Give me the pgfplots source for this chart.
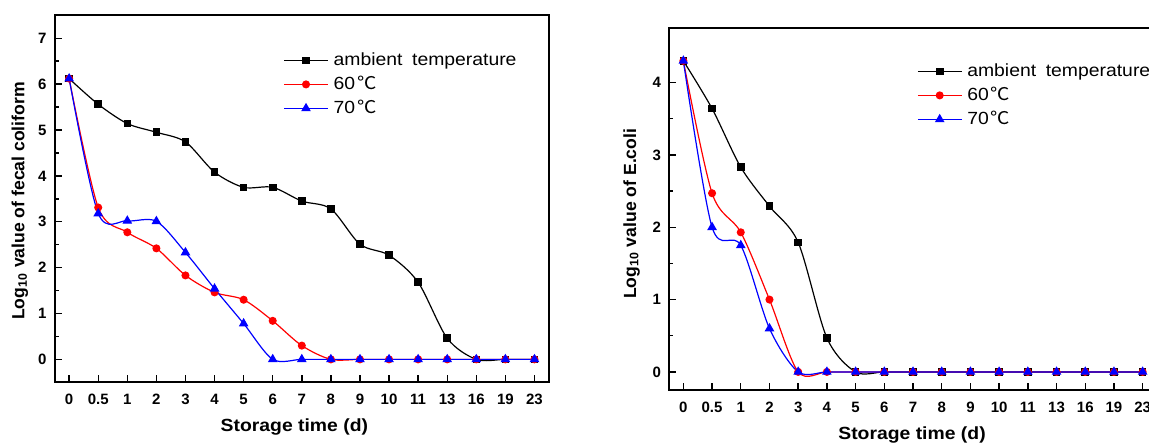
\documentclass[border=0pt]{standalone}
\usepackage{fontspec}
\setmainfont{Liberation Sans}
\newfontfamily\widefont{Liberation Sans}[FakeStretch=1.1]
\newfontfamily\cjk{Noto Sans CJK SC}[FakeStretch=1.1]
\usepackage{pgfplots}
\usepackage{pgfplotstable}
\pgfplotsset{compat=1.18}

\pgfplotstableread{
x amb c60 c70
0 6.12 6.12 6.12
1 5.56 3.31 3.18
2 5.14 2.77 3.02
3 4.95 2.42 3.01
4 4.74 1.83 2.33
5 4.08 1.46 1.54
6 3.75 1.30 0.78
7 3.75 0.84 0
8 3.45 0.30 0
9 3.28 0 0
10 2.51 0 0
11 2.27 0 0
12 1.68 0 0
13 0.46 0 0
14 0 0 0
15 0 0 0
16 0 0 0
}\leftdata

\pgfplotstableread{
x amb c60 c70
0 4.30 4.30 4.30
1 3.64 2.47 2.00
2 2.83 1.93 1.75
3 2.29 1.00 0.60
4 1.79 0 0
5 0.47 0 0
6 0 0 0
7 0 0 0
8 0 0 0
9 0 0 0
10 0 0 0
11 0 0 0
12 0 0 0
13 0 0 0
14 0 0 0
15 0 0 0
16 0 0 0
}\rightdata

\pgfplotsset{
  panel/.style={
    anchor=south west, scale only axis,
    xmin=-0.5, xmax=16.5,
    xtick={0,...,16},
    xticklabels={0,0.5,1,2,3,4,5,6,7,8,9,10,11,13,16,19,23},
    minor y tick num=1,
    tick align=inside, tick pos=left,
    major tick length=3.5pt, minor tick length=2pt,
    axis line style={line width=0.9pt},
    every tick/.style={line width=0.7pt, black},
    /pgf/number format/assume math mode=true,
    tick label style={font=\bfseries\fontsize{7.5}{9}\selectfont},
    xticklabel style={yshift=-2.5pt},
    yticklabel style={xshift=-0.5pt},
    x label style={font=\widefont\bfseries\fontsize{8.8}{10}\selectfont},
    y label style={font=\bfseries\fontsize{8.8}{10}\selectfont},
    legend style={draw=none, fill=none, inner sep=0pt, row sep=3.7pt,
      nodes={inner sep=0pt, text height=6.5pt, text depth=1.8pt, anchor=west},
      font=\widefont\fontsize{8.8}{10.5}\selectfont,
      /tikz/every odd column/.append style={column sep=2.6pt}},
    legend cell align=left,
    legend image code/.code={\draw[mark repeat=2,mark phase=2,##1] plot coordinates {(0pt,0pt) (10.9pt,0pt) (21.8pt,0pt)};},
  },
  sblack/.style={black, line width=0.6pt, smooth, mark=square*, mark size=1.6pt},
  sred/.style={red, line width=0.6pt, smooth, mark=*, mark size=1.7pt},
  sblue/.style={blue, line width=0.6pt, smooth, mark=triangle*, mark size=2.2pt},
}

\begin{document}
\begin{tikzpicture}
\path[use as bounding box] (0,0) rectangle (574.5pt,222pt);
\clip (0,0) rectangle (574.5pt,222pt);

\begin{axis}[panel,
  at={(27.3pt,30.85pt)}, width=247.2pt, height=183.5pt,
  ymin=-0.5, ymax=7.5, ytick={0,...,7},
  xlabel={Storage time (d)},
  ylabel={Log\textsubscript{10} value of fecal coliform},
  x label style={at={(axis description cs:0.485,-0.1218)}, anchor=center},
  y label style={at={(axis description cs:-0.07,0.494)}, anchor=center},
  legend style={at={(axis description cs:0.4624,0.9008)}, anchor=north west},
]
\addplot[sblack] table[x=x,y=amb] {\leftdata};
\addplot[sred] table[x=x,y=c60] {\leftdata};
\addplot[sblue] table[x=x,y=c70] {\leftdata};
\legend{ambient\hspace{0.55em}temperature, 60\hspace{0.12em}{\cjk ℃}, 70\hspace{0.12em}{\cjk ℃}}
\end{axis}

\begin{axis}[panel,
  at={(334.5pt,27pt)}, width=244pt, height=180.85pt,
  ymin=-0.25, ymax=4.75, ytick={0,...,4},
  xlabel={Storage time (d)},
  ylabel={Log\textsubscript{10} value of E.coli},
  x label style={at={(axis description cs:0.498,-0.1244)}, anchor=center},
  y label style={at={(axis description cs:-0.0768,0.487)}, anchor=center},
  legend style={at={(axis description cs:0.508,0.9049)}, anchor=north west},
]
\addplot[sblack] table[x=x,y=amb] {\rightdata};
\addplot[sred] table[x=x,y=c60] {\rightdata};
\addplot[sblue] table[x=x,y=c70] {\rightdata};
\legend{ambient\hspace{0.55em}temperature, 60\hspace{0.12em}{\cjk ℃}, 70\hspace{0.12em}{\cjk ℃}}
\end{axis}
\end{tikzpicture}
\end{document}
